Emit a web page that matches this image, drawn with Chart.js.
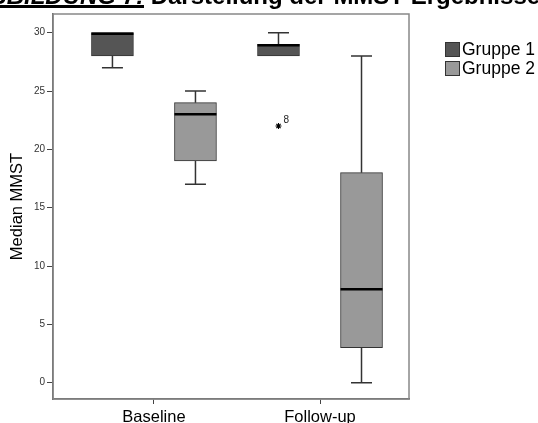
<!DOCTYPE html>
<html>
<head>
<meta charset="utf-8">
<script src="https://cdn.jsdelivr.net/npm/chart.js@4/dist/chart.umd.min.js"></script>
<style>
  body { margin: 0; background: #fff; overflow: hidden; }
  #wrap { position: relative; width: 538px; height: 423px; }
  #title {
    position: absolute; left: -28px; top: -16px;
    font: bold 24px Arial, "Liberation Sans", sans-serif; line-height: 24px;
    white-space: nowrap; color: #000;
  }
  #title em { text-decoration: underline; text-decoration-thickness: 3px; text-underline-offset: 1px; }
</style>
</head>
<body>
<div id="wrap">
  <canvas id="chart" width="538" height="423"></canvas>
  <div id="title"><em>ABBILDUNG 7:</em> Darstellung der MMST-Ergebnisse</div>
</div>
<script>
// data
const categories = ['Baseline', 'Follow-up'];
const groups = ['Gruppe 1', 'Gruppe 2'];
const yTicks = [0, 5, 10, 15, 20, 25, 30];

const g1Min = [27, 28];
const g1Q1 = [28, 28];
const g1Median = [30, 29];
const g1Q3 = [30, 29];
const g1Max = [30, 30];

const g2Min = [17, 0];
const g2Q1 = [19, 3];
const g2Median = [23, 8];
const g2Q3 = [24, 18];
const g2Max = [25, 28];

// outliers: category index, group index, value, case label
const outlierCategory = [1];
const outlierGroup = [0];
const outlierValue = [22];
const outlierLabel = ['8'];

const groupColors = ['#555555', '#999999'];
const groupOffset = [-0.25, 0.25];
const FONT = 'Arial, "Liberation Sans", sans-serif';

const stats = [
    { min: g1Min, q1: g1Q1, med: g1Median, q3: g1Q3, max: g1Max },
    { min: g2Min, q1: g2Q1, med: g2Median, q3: g2Q3, max: g2Max }
];

const boxDatasets = groups.map((g, gi) => ({
    label: g,
    data: categories.map((c, i) => ({ x: i + groupOffset[gi], y: [stats[gi].q1[i], stats[gi].q3[i]] })),
    backgroundColor: groupColors[gi],
    borderColor: '#333',
    borderWidth: 1,
    borderSkipped: false,
    barThickness: 42,
    grouped: false,
    stats: stats[gi]
}));

const outlierDataset = {
    type: 'scatter',
    label: 'outliers',
    data: outlierValue.map((v, k) => ({ x: outlierCategory[k] + groupOffset[outlierGroup[k]], y: v })),
    pointStyle: 'star',
    radius: 3,
    borderColor: '#000',
    borderWidth: 1.1,
    backgroundColor: '#000'
};

// whiskers, medians, frame, legend, outlier labels
const boxExtras = {
    id: 'boxExtras',
    beforeDatasetsDraw(chart) {
        const { ctx, chartArea: a } = chart;
        ctx.save();
        ctx.strokeStyle = '#888';
        ctx.lineWidth = 1.5;
        ctx.strokeRect(a.left, a.top, a.right - a.left, a.bottom - a.top);
        ctx.restore();
    },
    afterDatasetsDraw(chart) {
        const { ctx } = chart;
        const y = chart.scales.y;
        ctx.save();
        chart.data.datasets.forEach((ds, di) => {
            if (!ds.stats) return;
            chart.getDatasetMeta(di).data.forEach((bar, i) => {
                const cx = bar.x;
                const w = bar.width;
                const s = ds.stats;
                // whiskers
                ctx.strokeStyle = '#333';
                ctx.lineWidth = 1.5;
                ctx.beginPath();
                if (s.max[i] > s.q3[i]) {
                    ctx.moveTo(cx, y.getPixelForValue(s.q3[i]));
                    ctx.lineTo(cx, y.getPixelForValue(s.max[i]));
                    ctx.moveTo(cx - w / 4, y.getPixelForValue(s.max[i]));
                    ctx.lineTo(cx + w / 4, y.getPixelForValue(s.max[i]));
                }
                if (s.min[i] < s.q1[i]) {
                    ctx.moveTo(cx, y.getPixelForValue(s.q1[i]));
                    ctx.lineTo(cx, y.getPixelForValue(s.min[i]));
                    ctx.moveTo(cx - w / 4, y.getPixelForValue(s.min[i]));
                    ctx.lineTo(cx + w / 4, y.getPixelForValue(s.min[i]));
                }
                ctx.stroke();
                // median
                ctx.strokeStyle = '#000';
                ctx.lineWidth = 2.5;
                ctx.beginPath();
                const my = y.getPixelForValue(s.med[i]);
                const mline = s.med[i] === s.q3[i] ? my + 1 : my;
                ctx.moveTo(cx - w / 2, mline);
                ctx.lineTo(cx + w / 2, mline);
                ctx.stroke();
            });
        });
        // outlier case labels
        const om = chart.getDatasetMeta(chart.data.datasets.indexOf(outlierDataset));
        ctx.fillStyle = '#222';
        ctx.font = '10px ' + FONT;
        ctx.textBaseline = 'alphabetic';
        om.data.forEach((pt, k) => ctx.fillText(outlierLabel[k], pt.x + 5, pt.y - 3));
        // legend
        ctx.font = '17.5px ' + FONT;
        ctx.textBaseline = 'middle';
        groups.forEach((g, gi) => {
            const ly = 42 + gi * 19;
            ctx.fillStyle = groupColors[gi];
            ctx.fillRect(445, ly, 15, 15);
            ctx.strokeStyle = '#333';
            ctx.lineWidth = 1;
            ctx.strokeRect(445.5, ly + 0.5, 14, 14);
            ctx.fillStyle = '#000';
            ctx.fillText(g, 462, ly + 8);
        });
        ctx.restore();
    }
};

new Chart(document.getElementById('chart'), {
    type: 'bar',
    data: { datasets: [...boxDatasets, outlierDataset] },
    options: {
        responsive: false,
        animation: false,
        events: [],
        layout: { padding: { top: 14, right: 129, left: 0, bottom: 0 } },
        plugins: { legend: { display: false }, tooltip: { enabled: false } },
        scales: {
            x: {
                type: 'linear',
                min: -0.608,
                max: 1.536,
                offset: false,
                afterBuildTicks: s => { s.ticks = categories.map((c, i) => ({ value: i })); },
                afterFit: s => { s.height = 24; },
                ticks: {
                    callback: v => categories[v],
                    autoSkip: false, maxRotation: 0, padding: 4,
                    color: '#000', font: { family: FONT, size: 16.5 }
                },
                grid: { drawOnChartArea: false, offset: false, tickLength: 5, color: '#444', lineWidth: 1 },
                border: { color: '#555', width: 1.5 }
            },
            y: {
                min: -1.4,
                max: 31.6,
                afterBuildTicks: s => { s.ticks = yTicks.map(v => ({ value: v })); },
                afterFit: s => { s.width = 53; },
                ticks: { color: '#333', padding: 2, font: { family: FONT, size: 10 } },
                grid: { drawOnChartArea: false, tickLength: 6, color: '#444', lineWidth: 1 },
                border: { color: '#555', width: 1.5 },
                title: {
                    display: true, text: 'Median MMST', color: '#000',
                    font: { family: FONT, size: 16.5 }, padding: { top: 8, bottom: 0 }
                }
            }
        }
    },
    plugins: [boxExtras]
});
</script>
</body>
</html>
